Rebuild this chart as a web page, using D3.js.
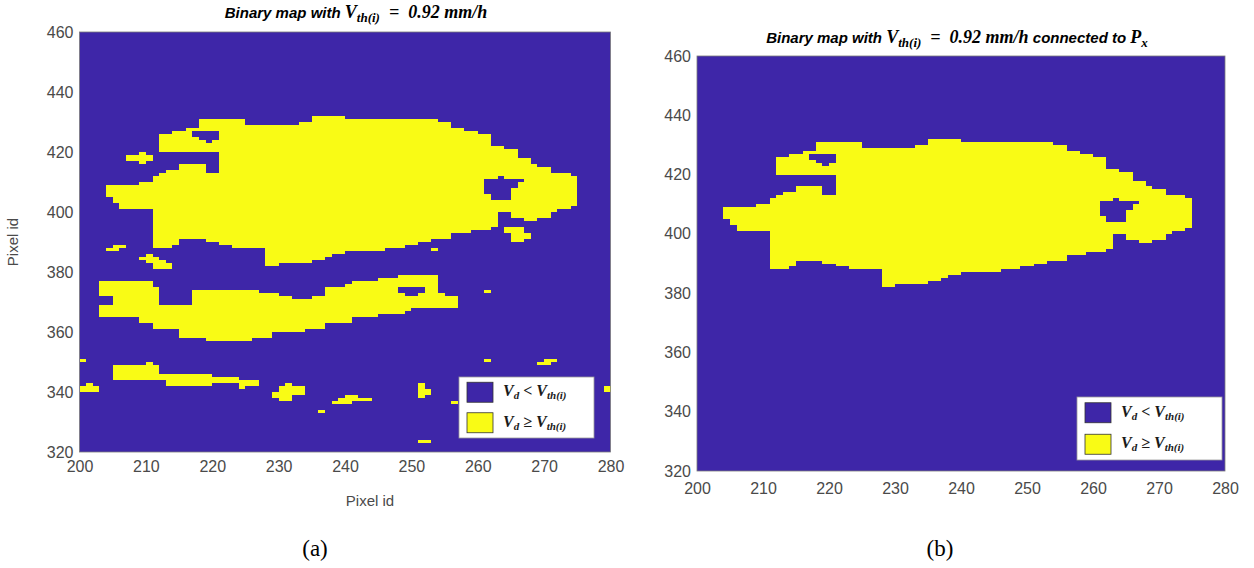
<!DOCTYPE html>
<html>
<head>
<meta charset="utf-8">
<script src="https://cdn.jsdelivr.net/npm/d3@7/dist/d3.min.js"></script>
<style>
  body { margin: 0; background: #fff; }
  svg text { font-family: "Liberation Sans", Arial, sans-serif; }
  .math { font-family: "Liberation Serif", "DejaVu Serif", serif; font-weight: bold; font-style: italic; }
  .ttl { font-weight: bold; font-style: italic; }
</style>
</head>
<body>
<svg id="chart" width="1254" height="568"></svg>
<script>
const BLUE = '#3e26a8'
const YELLOW = '#f9fb15'

const xTicks = [200, 210, 220, 230, 240, 250, 260, 270, 280]
const yTicks = [320, 340, 360, 380, 400, 420, 440, 460]

// runs of pixels with V_d >= V_th(i): [row y, first x, x after last]
// main region, the one connected to P_x
const mainRuns = [
  [431, 235, 240],
  [430, 218, 225], [430, 235, 254],
  [429, 218, 225], [429, 233, 256],
  [428, 218, 256],
  [427, 216, 258],
  [426, 214, 217], [426, 221, 260],
  [425, 212, 217], [425, 221, 262],
  [424, 212, 218], [424, 221, 262],
  [423, 212, 219], [423, 220, 262],
  [422, 212, 262],
  [421, 212, 264],
  [420, 212, 266],
  [419, 221, 266],
  [418, 221, 266],
  [417, 221, 268],
  [416, 221, 268],
  [415, 215, 219], [415, 221, 269],
  [414, 215, 219], [414, 221, 271],
  [413, 213, 219], [413, 221, 271],
  [412, 212, 274],
  [411, 211, 263], [411, 264, 275],
  [410, 211, 261], [410, 267, 275],
  [409, 209, 261], [409, 266, 275],
  [408, 204, 261], [408, 266, 275],
  [407, 204, 261], [407, 265, 275],
  [406, 204, 261], [406, 265, 275],
  [405, 204, 262], [405, 265, 275],
  [404, 205, 262], [404, 265, 275],
  [403, 205, 275],
  [402, 206, 275],
  [401, 206, 274],
  [400, 211, 272],
  [399, 211, 263], [399, 265, 271],
  [398, 211, 263], [398, 265, 271],
  [397, 211, 263], [397, 267, 269],
  [396, 211, 263],
  [395, 211, 263],
  [394, 211, 262],
  [393, 211, 259],
  [392, 211, 256],
  [391, 211, 256],
  [390, 211, 215], [390, 219, 253],
  [389, 211, 215], [389, 221, 251],
  [388, 211, 214], [388, 223, 249],
  [387, 228, 246],
  [386, 228, 240],
  [385, 228, 238],
  [384, 228, 237],
  [383, 228, 235],
  [382, 228, 230]
]

// long band under the main region
const bandRuns = [
  [378, 248, 254],
  [377, 245, 254],
  [376, 203, 211], [376, 241, 254],
  [375, 203, 211], [375, 240, 254],
  [374, 203, 212], [374, 237, 248], [374, 252, 254],
  [373, 203, 212], [373, 217, 227], [373, 237, 248], [373, 252, 254],
  [372, 203, 212], [372, 217, 230], [372, 237, 249], [372, 251, 255],
  [371, 205, 212], [371, 217, 232], [371, 235, 257],
  [370, 205, 212], [370, 217, 257],
  [369, 205, 212], [369, 217, 257],
  [368, 203, 257],
  [367, 203, 250],
  [366, 203, 249],
  [365, 203, 245],
  [364, 209, 241],
  [363, 209, 241],
  [362, 211, 237],
  [361, 211, 237],
  [360, 215, 234],
  [359, 215, 229],
  [358, 215, 229],
  [357, 219, 226]
]

// small isolated patches
const speckRuns = [
  [419, 209, 210], [418, 207, 211], [417, 207, 211], [416, 209, 210],
  [388, 205, 207], [387, 204, 206],
  [385, 210, 211], [384, 209, 212], [383, 210, 213], [382, 211, 214], [381, 211, 214],
  [387, 253, 254],
  [394, 264, 267], [393, 264, 267], [392, 265, 268], [391, 265, 268], [390, 265, 267],
  [373, 261, 262],
  [350, 200, 201], [350, 261, 262], [350, 270, 272],
  [349, 210, 211], [349, 269, 271],
  [348, 205, 212], [347, 205, 212], [346, 205, 212],
  [345, 205, 220],
  [344, 205, 224],
  [343, 213, 227],
  [342, 201, 202], [342, 213, 220], [342, 224, 227], [342, 231, 232], [342, 251, 252],
  [341, 200, 203], [341, 224, 225], [341, 230, 234], [341, 251, 252], [341, 279, 280],
  [340, 200, 203], [340, 230, 234], [340, 251, 253], [340, 279, 280],
  [339, 229, 234], [339, 251, 253],
  [338, 229, 232], [338, 240, 242], [338, 251, 252],
  [337, 230, 232], [337, 239, 244],
  [336, 238, 241], [336, 256, 257],
  [333, 236, 237],
  [323, 251, 253]
]

const legendItems = [
  { color: BLUE, rel: '<' },
  { color: YELLOW, rel: '\u2265' }
]

const panels = [
  {
    left: 79.5, right: 610.5, top: 32, bottom: 452,
    runs: mainRuns.concat(bandRuns, speckRuns),
    title: { x: 356, y: 18, tail: false },
    legend: { x: 459, y: 377, w: 135, h: 61 },
    xPad: 9, xLabel: true, yLabel: true, caption: { x: 315, text: '(a)' }
  },
  {
    left: 697, right: 1225, top: 56, bottom: 471,
    runs: mainRuns,
    title: { x: 957, y: 43, tail: true },
    legend: { x: 1077, y: 397, w: 145, h: 63 },
    xPad: 12, xLabel: false, yLabel: false, caption: { x: 940, text: '(b)' }
  }
]

const svg = d3.select('#chart')

panels.forEach(p => {
  const x = d3.scaleLinear().domain([200, 280]).range([p.left, p.right])
  const y = d3.scaleLinear().domain([320, 460]).range([p.bottom, p.top])

  const g = svg.append('g')

  g.append('rect')
    .attr('x', p.left).attr('y', p.top)
    .attr('width', p.right - p.left).attr('height', p.bottom - p.top)
    .attr('fill', BLUE)

  g.selectAll('.cell')
    .data(p.runs)
    .enter()
    .append('rect')
    .attr('class', 'cell')
    .attr('x', d => x(d[1]))
    .attr('y', d => y(d[0] + 1))
    .attr('width', d => x(d[2]) - x(d[1]))
    .attr('height', d => y(d[0]) - y(d[0] + 1))
    .attr('fill', YELLOW)
    .attr('shape-rendering', 'crispEdges')

  g.append('rect')
    .attr('x', p.left).attr('y', p.top)
    .attr('width', p.right - p.left).attr('height', p.bottom - p.top)
    .attr('fill', 'none')
    .attr('stroke', '#7a7a7a')
    .attr('stroke-width', 0.8)

  const yAxis = g.append('g')
    .attr('transform', `translate(${p.left},0)`)
    .call(d3.axisLeft(y).tickValues(yTicks).tickSize(0).tickPadding(6))
  const xAxis = g.append('g')
    .attr('transform', `translate(0,${p.bottom})`)
    .call(d3.axisBottom(x).tickValues(xTicks).tickSize(0).tickPadding(p.xPad))
  ;[xAxis, yAxis].forEach(a => {
    a.select('.domain').remove()
    a.selectAll('text')
      .attr('fill', '#4a4a4a')
      .style('font-size', '16px')
      .style('font-family', '"Liberation Sans", Arial, sans-serif')
  })

  // title
  const t = g.append('text')
    .attr('x', p.title.x).attr('y', p.title.y)
    .attr('text-anchor', 'middle')
    .attr('fill', '#000')
  t.append('tspan').attr('class', 'ttl').style('font-size', '15px').text('Binary map with ')
  t.append('tspan').attr('class', 'math').style('font-size', '18px').text('V')
  t.append('tspan').attr('class', 'math').style('font-size', '13px').attr('dy', 4).text('th(i)')
  t.append('tspan').attr('class', 'math').style('font-size', '18px').attr('dy', -4)
    .text('\u00a0\u00a0=\u00a0\u00a00.92\u00a0mm/h')
  if (p.title.tail) {
    t.append('tspan').attr('class', 'ttl').style('font-size', '15px').text('\u00a0connected to\u00a0')
    t.append('tspan').attr('class', 'math').style('font-size', '18px').text('P')
    t.append('tspan').attr('class', 'math').style('font-size', '13px').attr('dy', 4).text('x')
  }

  // legend
  const L = p.legend
  const lg = g.append('g')
  lg.append('rect')
    .attr('x', L.x).attr('y', L.y).attr('width', L.w).attr('height', L.h)
    .attr('fill', '#fff').attr('stroke', '#9a9a9a').attr('stroke-width', 0.8)
  const rowH = L.h / 2
  legendItems.forEach((it, i) => {
    const cy = L.y + rowH * i + rowH / 2
    lg.append('rect')
      .attr('x', L.x + 8).attr('y', cy - 10)
      .attr('width', 26).attr('height', 20)
      .attr('fill', it.color).attr('stroke', '#333').attr('stroke-width', 0.8)
    const lt = lg.append('text')
      .attr('x', L.x + 44).attr('y', cy + 4)
      .attr('class', 'math').attr('fill', '#1a1a1a')
      .style('font-size', '16px')
    lt.append('tspan').text('V')
    lt.append('tspan').style('font-size', '11px').attr('dy', 3).text('d')
    lt.append('tspan').attr('dy', -3).text('\u00a0' + it.rel + '\u00a0V')
    lt.append('tspan').style('font-size', '11px').attr('dy', 3).text('th(i)')
  })

  if (p.yLabel) {
    svg.append('text')
      .attr('transform', `translate(18,${(p.top + p.bottom) / 2}) rotate(-90)`)
      .attr('text-anchor', 'middle')
      .attr('fill', '#4a4a4a')
      .style('font-size', '15px')
      .text('Pixel id')
  }
  if (p.xLabel) {
    svg.append('text')
      .attr('x', 370).attr('y', 506)
      .attr('text-anchor', 'middle')
      .attr('fill', '#4a4a4a')
      .style('font-size', '15px')
      .text('Pixel id')
  }

  svg.append('text')
    .attr('x', p.caption.x).attr('y', 556)
    .attr('text-anchor', 'middle')
    .style('font-family', '"Liberation Serif", "DejaVu Serif", serif')
    .style('font-size', '23px')
    .attr('fill', '#000')
    .text(p.caption.text)
})
</script>
</body>
</html>
